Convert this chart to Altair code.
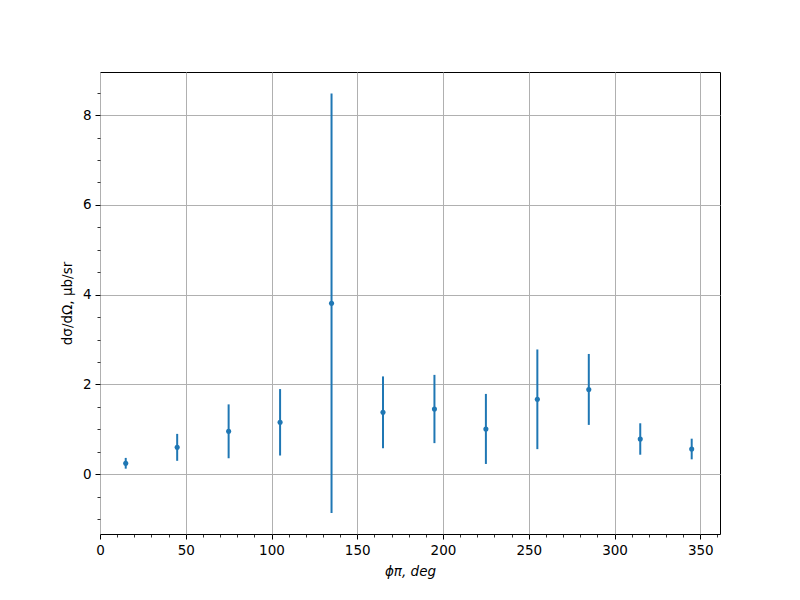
import altair as alt
import pandas as pd

# Data
phi = [15, 45, 75, 105, 135, 165, 195, 225, 255, 285, 315, 345]
xsec = [0.245, 0.60, 0.957, 1.158, 3.81, 1.38, 1.454, 1.01, 1.67, 1.89, 0.786, 0.563]
err = [0.12, 0.30, 0.60, 0.74, 4.67, 0.80, 0.76, 0.78, 1.11, 0.79, 0.35, 0.23]

x_major = [0, 50, 100, 150, 200, 250, 300, 350]
x_minor = [10, 20, 30, 40, 60, 70, 80, 90, 110, 120, 130, 140, 160, 170, 180, 190,
           210, 220, 230, 240, 260, 270, 280, 290, 310, 320, 330, 340, 360]
y_major = [0, 2, 4, 6, 8]
y_minor = [-1.0, -0.5, 0.5, 1.0, 1.5, 2.5, 3.0, 3.5, 4.5, 5.0, 5.5, 6.5, 7.0, 7.5, 8.5]

x_domain = [0, 361.5]
y_domain = [-1.33, 8.96]

df = pd.DataFrame({"phi": phi, "xsec": xsec, "err": err})
df["lo"] = df["xsec"] - df["err"]
df["hi"] = df["xsec"] + df["err"]

FONT = "DejaVu Sans"
BLUE = "#1f77b4"

xscale = alt.Scale(domain=x_domain, nice=False, zero=False)
yscale = alt.Scale(domain=y_domain, nice=False, zero=False)

x_axis_major = alt.Axis(values=x_major, orient="bottom", grid=True, gridColor="#b0b0b0",
                        gridWidth=1, domain=False, tickColor="black", tickSize=5, tickWidth=1,
                        labelFont=FONT, labelFontSize=13.5, labelColor="black", labelPadding=4,
                        labelFlush=False, labelOverlap=False,
                        title="ϕπ, deg", titleFont=FONT, titleFontSize=13.5,
                        titleFontWeight="normal", titleFontStyle="italic", titleColor="black",
                        titlePadding=8)
y_axis_major = alt.Axis(values=y_major, orient="left", grid=True, gridColor="#b0b0b0",
                        gridWidth=1, domain=False, tickColor="black", tickSize=5, tickWidth=1,
                        labelFont=FONT, labelFontSize=13.5, labelColor="black", labelPadding=4,
                        labelFlush=False, labelOverlap=False,
                        title="dσ/dΩ, μb/sr", titleFont=FONT, titleFontSize=13.5,
                        titleFontWeight="normal", titleColor="black", titlePadding=8)

x_axis_minor = alt.Axis(values=x_minor, orient="bottom", grid=False, domain=False,
                        labels=False, tickColor="black", tickSize=3, tickWidth=0.8, title=None)
y_axis_minor = alt.Axis(values=y_minor, orient="left", grid=False, domain=False,
                        labels=False, tickColor="black", tickSize=3, tickWidth=0.8, title=None)

bars = alt.Chart(df).mark_rule(color=BLUE, strokeWidth=2).encode(
    x=alt.X("phi:Q", scale=xscale, axis=x_axis_major),
    y=alt.Y("lo:Q", scale=yscale, axis=y_axis_major),
    y2="hi:Q",
)

points = alt.Chart(df).mark_point(filled=True, color=BLUE, opacity=1, size=26).encode(
    x=alt.X("phi:Q", scale=xscale, axis=x_axis_minor),
    y=alt.Y("xsec:Q", scale=yscale, axis=y_axis_minor),
)

chart = alt.layer(bars, points).resolve_axis(x="independent", y="independent").properties(
    width=620,
    height=462,
    autosize=alt.AutoSizeParams(type="none"),
    padding={"left": 92, "top": 64, "right": 72, "bottom": 58},
    background="white",
).configure_view(stroke="black", strokeWidth=1)

chart.save("out.html", embed_options={"renderer": "svg", "actions": False})
